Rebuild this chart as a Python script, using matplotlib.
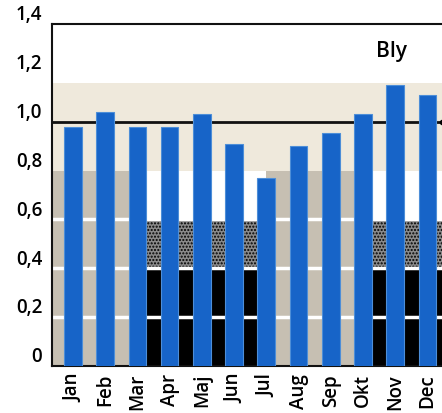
import matplotlib
matplotlib.use('Agg')
import matplotlib.pyplot as plt
from matplotlib.transforms import ScaledTranslation

# Data
months = ['Jan', 'Feb', 'Mar', 'Apr', 'Maj', 'Jun',
          'Jul', 'Aug', 'Sep', 'Okt', 'Nov', 'Dec']
values = [0.98, 1.04, 0.98, 0.98, 1.03, 0.91,
          0.77, 0.90, 0.955, 1.03, 1.15, 1.11]
reference = 1.0
yticks = [0, 0.2, 0.4, 0.6, 0.8, 1.0, 1.2, 1.4]
ytick_labels = ['0', '0,2', '0,4', '0,6', '0,8', '1,0', '1,2', '1,4']
title = 'Bly'

# background bands of the scanned page
gap_dark = [False, False, False, True, True, True, True,
            False, False, False, True, True, True]
band_top = 1.16
plt.rcParams['font.family'] = ['Open Sans', 'DejaVu Sans']


def main():
    fig = plt.figure(figsize=(4.42, 4.14), dpi=100)
    ax = fig.add_axes([0.1176, 0.1135, 0.8824, 0.826])
    x = list(range(len(months)))
    gaps = [i - 0.5 for i in range(len(months) + 1)]

    # beige band behind the top of the bars
    ax.axhspan(0.8, band_top, color='#efe9dc', zorder=0, lw=0)
    # columns between the bars
    for g, dark in zip(gaps, gap_dark):
        if dark:
            ax.bar(g, 0.4, width=1, bottom=0, color='black', lw=0, zorder=0)
            ax.bar(g, 0.2, width=1, bottom=0.4, facecolor='#8a8a8a',
                   edgecolor='black', hatch='.....', lw=0, zorder=0)
            ax.bar(g, 0.2, width=1, bottom=0.6, color='white', lw=0, zorder=0)
        else:
            ax.bar(g, 0.8, width=1, bottom=0, color='#c6bfb2', lw=0, zorder=0)
    for yy in [0.2, 0.4, 0.6]:
        ax.axhline(yy, color='white', lw=2.5, zorder=1)

    ax.bar(x, values, width=0.55, color='#1764c8', edgecolor='#4d8ed8',
           lw=0.8, zorder=3)
    ax.axhline(reference, color='#111111', lw=2, zorder=2)
    ax.plot([11.45], [reference], 'o', color='black', ms=3, zorder=4,
            clip_on=False)

    ax.text(9.87, 1.29, title, fontsize=15, fontweight='semibold',
            ha='center', va='center')

    ax.set_xlim(-0.65, 11.45)
    ax.set_ylim(0, 1.4)
    ax.set_yticks(yticks)
    ax.set_yticklabels([])
    # y labels in the scan sit a bit above their gridlines
    shift = ScaledTranslation(0, 7 / 72, fig.dpi_scale_trans)
    for yv, lab in zip(yticks, ytick_labels):
        ax.text(-0.025, yv, lab, transform=ax.get_yaxis_transform() + shift,
                ha='right', va='center', fontsize=13.5, fontweight='semibold')
    ax.set_xticks(x)
    ax.set_xticklabels(months, rotation=90, fontsize=13.5,
                       fontweight='semibold', va='top')
    ax.tick_params(length=0)
    ax.tick_params(axis='x', pad=5)
    ax.spines['right'].set_visible(False)
    for s in ['left', 'top', 'bottom']:
        ax.spines[s].set_linewidth(1.5)
        ax.spines[s].set_color('#111111')

    fig.savefig('out.png', dpi=100)


if __name__ == "__main__":
    main()
